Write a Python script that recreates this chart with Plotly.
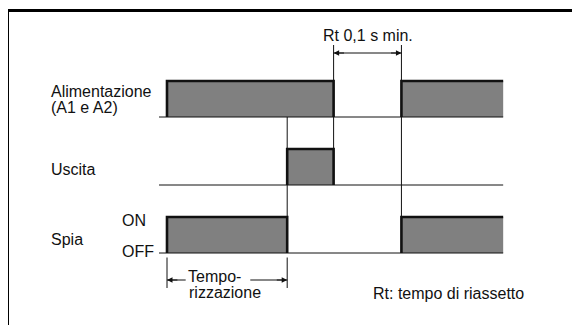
import plotly.graph_objects as go

# ---------------- data (time in arbitrary units) ----------------
timeline_start = -0.67
timeline_end = 28.25
supply_on = [0.0, 19.7]
supply_off = [14.0, 28.25]
output_on = [10.1]
output_off = [14.0]
lamp_on = [0.0, 19.7]
lamp_off = [10.1, 28.25]
timing_interval = [0.0, 10.1]
reset_interval = [14.0, 19.7]

row_labels = ["Alimentazione", "(A1 e A2)", "Uscita", "Spia"]
lamp_levels = ["ON", "OFF"]
reset_label = "Rt 0,1 s min."
timing_label = ["Tempo-", "rizzazione"]
legend_note = "Rt: tempo di riassetto"

# ---------------- layout constants (pixels, page coordinates) ----------------
OFF = 8                      # default page body margin
W, H = 580 - OFF, 325 - OFF  # figure size
PX0, PXU = 167.0 - OFF, 11.9  # pixel of t=0 in figure, pixels per time unit
x_range = [(0 - PX0) / PXU, (W - PX0) / PXU]
ROW_H = 36
rows = {"supply": 117, "output": 185, "lamp": 253}
FILL = "#808080"
INK = "#111111"
FONT = dict(family="Liberation Sans, Arial, Helvetica, sans-serif", size=16, color=INK)


def Y(py):
    return py - OFF


fig = go.Figure()


def seg(xs, ys, width=1):
    fig.add_trace(go.Scatter(x=xs, y=[Y(v) for v in ys], mode="lines",
                             line=dict(color=INK, width=width), hoverinfo="skip"))


# guide lines
seg([output_on[0]] * 2, [rows["supply"], rows["lamp"]])
seg([supply_off[0]] * 2, [45, rows["output"]])
seg([supply_on[1]] * 2, [45, rows["lamp"]])
seg([timing_interval[0]] * 2, [257.5, 288])
seg([timing_interval[1]] * 2, [257.5, 288])
# dimension lines
seg(reset_interval, [53, 53])
seg([timing_interval[0], timing_interval[0] + 1.57], [280, 280])
seg([timing_interval[1] - 3.1, timing_interval[1]], [280, 280])


def signal(base, starts, ends):
    high = base - ROW_H
    for s, e in zip(starts, ends):
        fig.add_trace(go.Scatter(x=[s, s, e, e, s], y=[Y(v) for v in [base, high, high, base, base]],
                                 mode="lines", fill="toself", fillcolor=FILL,
                                 line=dict(width=0, color=FILL), hoverinfo="skip"))
    seg([timeline_start, timeline_end], [base, base])
    for s, e in zip(starts, ends):
        if e < timeline_end:
            xs, ys = [s, s, e, e], [base, high, high, base]
        else:
            xs, ys = [s, s, e], [base, high, high]
        seg(xs, ys, width=2.6)


signal(rows["supply"], supply_on, supply_off)
signal(rows["output"], output_on, output_off)
signal(rows["lamp"], lamp_on, lamp_off)

ann = []


def arrowhead(tip, tail, py):
    ann.append(dict(x=tip, y=Y(py), ax=tail, ay=Y(py), xref="x", yref="y", axref="x", ayref="y",
                    showarrow=True, arrowhead=2, arrowsize=1.1, arrowwidth=1,
                    arrowcolor=INK, text="", standoff=0))


arrowhead(reset_interval[0], reset_interval[0] + 1.0, 53)
arrowhead(reset_interval[1], reset_interval[1] - 1.0, 53)
arrowhead(timing_interval[0], timing_interval[0] + 1.0, 280)
arrowhead(timing_interval[1], timing_interval[1] - 1.0, 280)


def text(s, px, py, anchor="left", xref="paper", x=None):
    ann.append(dict(text=s, x=((px - OFF) / W) if x is None else x, y=Y(py), xref=xref, yref="y",
                    xanchor=anchor, yanchor="middle", showarrow=False, font=FONT))


mid_rt = (reset_interval[0] + reset_interval[1]) / 2
text(row_labels[0], 49, 91)
text(row_labels[1], 49, 107)
text(row_labels[2], 49, 169)
text(row_labels[3], 49, 239)
text(lamp_levels[0], 120, 220)
text(lamp_levels[1], 120, 251)
text(reset_label, 0, 35, anchor="center", xref="x", x=mid_rt)
text(timing_label[0], 186, 276)
text(timing_label[1], 187, 292)
text(legend_note, 371, 293)

fig.update_layout(
    width=W, height=H, margin=dict(l=0, r=0, t=0, b=0),
    paper_bgcolor="white", plot_bgcolor="white", showlegend=False,
    xaxis=dict(range=x_range, visible=False, fixedrange=True),
    yaxis=dict(range=[H, 0], visible=False, fixedrange=True),
    annotations=ann,
    shapes=[
        dict(type="line", xref="paper", yref="paper", x0=(7.5 - OFF) / W, x1=1.05,
             y0=1 - (10.5 - OFF) / H, y1=1 - (10.5 - OFF) / H, line=dict(color="black", width=3)),
        dict(type="line", xref="paper", yref="paper", x0=(7.5 - OFF) / W, x1=(7.5 - OFF) / W,
             y0=1 - (10.5 - OFF) / H, y1=-0.05, line=dict(color="black", width=3)),
    ],
)

fig.write_html("out.html", config={"displayModeBar": False})
